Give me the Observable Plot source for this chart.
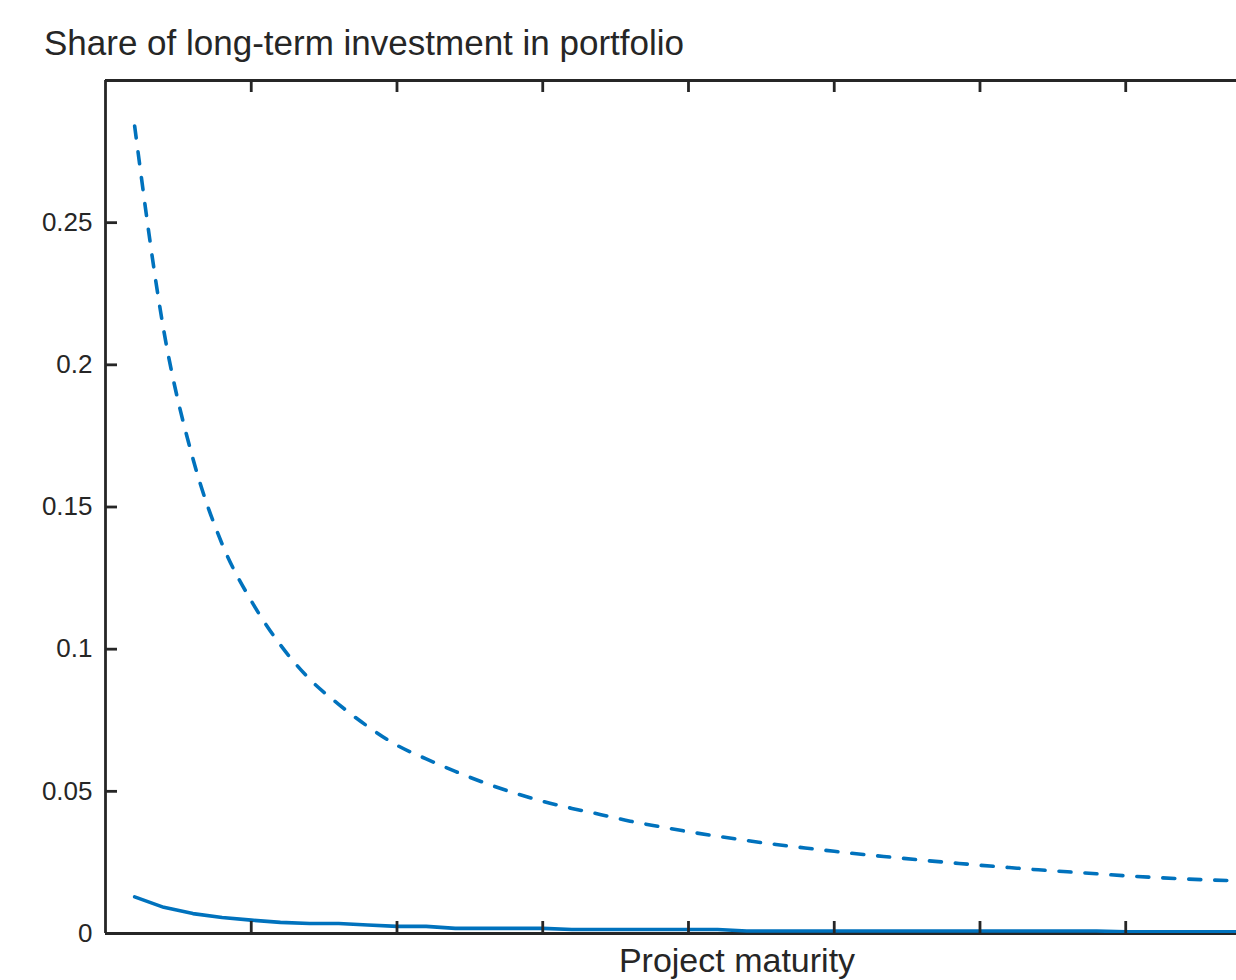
<!DOCTYPE html>
<html><head><meta charset="utf-8">
<script src="https://cdn.jsdelivr.net/npm/d3@7"></script>
<script src="https://cdn.jsdelivr.net/npm/@observablehq/plot@0.6"></script>
<style>
html,body{margin:0;padding:0;background:#fff;}
body{width:1236px;height:980px;overflow:hidden;position:relative;font-family:"Liberation Sans",Arial,Helvetica,sans-serif;color:#262626;}
#chart{position:absolute;left:0;top:0;}
#title{position:absolute;left:44px;top:25px;font-size:35px;line-height:35px;white-space:nowrap;}
#xlabel{position:absolute;left:437px;width:600px;text-align:center;top:943px;font-size:34px;line-height:34px;white-space:nowrap;}
</style></head>
<body>
<div id="chart"></div>
<div id="title">Share of long-term investment in portfolio</div>
<div id="xlabel">Project maturity</div>
<script>
const maturity = [1,2,3,4,5,6,7,8,9,10,11,12,13,14,15,16,17,18,19,20,21,22,23,24,25,26,27,28,29,30,31,32,33,34,35,36,37,38,39];
const dashedShare = [0.284,0.212,0.167,0.137,0.117,0.1015,0.0895,0.0806,0.0728,0.0662,0.0614,0.0570,0.0530,0.0495,0.0465,0.0440,0.0418,0.0395,0.0376,0.0358,0.0342,0.0327,0.0313,0.0301,0.0289,0.0278,0.0268,0.0258,0.0249,0.0240,0.0232,0.0224,0.0217,0.0210,0.0203,0.0197,0.0192,0.0188,0.0185];
const solidShare = [0.0129,0.0092,0.0070,0.0056,0.0047,0.0039,0.0035,0.0035,0.0030,0.0025,0.0025,0.0018,0.0018,0.0018,0.0018,0.0014,0.0014,0.0014,0.0014,0.0014,0.0014,0.0009,0.0009,0.0009,0.0009,0.0009,0.0009,0.0009,0.0009,0.0009,0.0009,0.0009,0.0009,0.0009,0.0006,0.0006,0.0006,0.0006,0.0006];
const xTicks = [5,10,15,20,25,30,35];
const yTicks = [0,0.05,0.1,0.15,0.2,0.25];
const xDomain = [0,38.8];
const yDomain = [0,0.3];

const W = 1236, H = 980, mT = 80, mB = 47, mL = 105, mR = 0;
const frameH = H - mT - mB, frameW = W - mL - mR;
const ink = "#262626", blue = "#0072BD";
const dashedData = maturity.map((m,i)=>({m, v: dashedShare[i]}));
const solidData = maturity.map((m,i)=>({m, v: solidShare[i]}));

const chart = Plot.plot({
  width: W, height: H,
  marginTop: mT, marginBottom: mB, marginLeft: mL, marginRight: mR,
  style: {fontFamily: "'Liberation Sans', Arial, Helvetica, sans-serif", background: "white", color: ink},
  x: {domain: xDomain, axis: null},
  y: {domain: yDomain},
  marks: [
    Plot.ruleY([yDomain[0], yDomain[1]], {stroke: ink, strokeWidth: 2.8}),
    Plot.ruleX([xDomain[0]], {stroke: ink, strokeWidth: 2.8}),
    Plot.line(dashedData, {x: "m", y: "v", stroke: blue, strokeWidth: 3.6, strokeDasharray: "12,14", curve: "monotone-x", clip: true}),
    Plot.line(solidData, {x: "m", y: "v", stroke: blue, strokeWidth: 3.6, clip: true}),
    Plot.tickX(xTicks, {x: d => d, stroke: ink, strokeWidth: 2.8, insetTop: frameH - 12}),
    Plot.tickX(xTicks, {x: d => d, stroke: ink, strokeWidth: 2.8, insetBottom: frameH - 12}),
    Plot.tickY(yTicks.slice(1), {y: d => d, stroke: ink, strokeWidth: 2.8, insetRight: frameW - 12}),
    Plot.axisY({ticks: yTicks, tickSize: 0, tickPadding: 13, fontSize: 26, label: null, fill: ink, tickFormat: d => String(d)})
  ]
});
document.getElementById("chart").appendChild(chart);
</script>
</body></html>
